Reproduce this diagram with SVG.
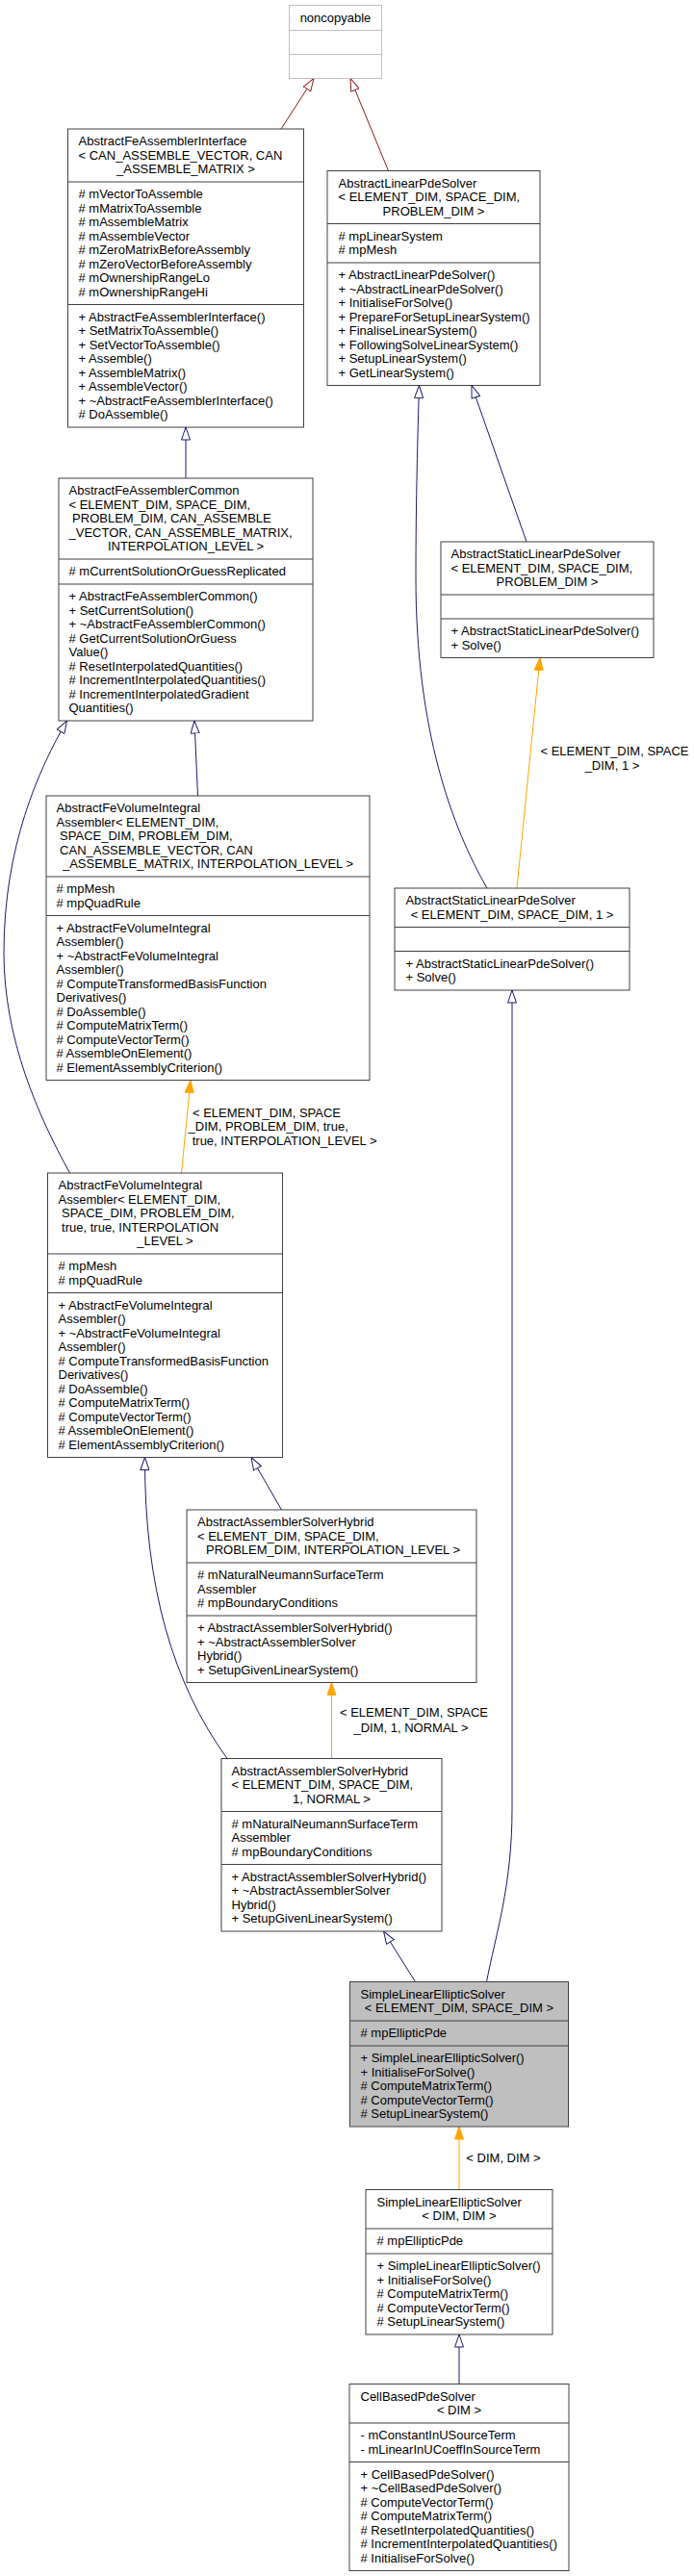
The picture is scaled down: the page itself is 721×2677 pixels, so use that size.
<svg xmlns="http://www.w3.org/2000/svg" width="721" height="2677" viewBox="0 0 721 2677">
<style>
text{font-family:"Liberation Sans",Arial,Helvetica,sans-serif;font-size:13px;fill:#000}
.m{text-anchor:middle}
.box{fill:#fff;stroke:#404040;stroke-width:1}
.gray{fill:#bfbfbf}
.ext{fill:#fff;stroke:#bfbfbf;stroke-width:1}
.div{stroke:#404040;stroke-width:1}
.divx{stroke:#bfbfbf;stroke-width:1}
.eb{fill:none;stroke:#191970;stroke-width:1;marker-end:url(#hb)}
.er{fill:none;stroke:#8b1a1a;stroke-width:1;marker-end:url(#hr)}
.eo{fill:none;stroke:#ffa500;stroke-width:1;marker-end:url(#ho)}
</style>
<defs>
<marker id="hb" viewBox="0 0 14 10" refX="13.5" refY="5" markerWidth="14" markerHeight="10" markerUnits="userSpaceOnUse" orient="auto"><path d="M0.5,0.5 L13.5,5 L0.5,9.5 Z" fill="#fff" stroke="#191970" stroke-width="1"/></marker>
<marker id="hr" viewBox="0 0 14 10" refX="13.5" refY="5" markerWidth="14" markerHeight="10" markerUnits="userSpaceOnUse" orient="auto"><path d="M0.5,0.5 L13.5,5 L0.5,9.5 Z" fill="#fff" stroke="#8b1a1a" stroke-width="1"/></marker>
<marker id="ho" viewBox="0 0 14 10" refX="13.5" refY="5" markerWidth="14" markerHeight="10" markerUnits="userSpaceOnUse" orient="auto"><path d="M0.5,0.5 L13.5,5 L0.5,9.5 Z" fill="#ffa500" stroke="#ffa500" stroke-width="1"/></marker>
</defs>
<rect width="721" height="2677" fill="#fff"/>

<g id="connectors">
<path class="er" d="M292,134 L326,81.5"/>
<path class="er" d="M403.5,177.5 L364,81.5"/>
<path class="eb" d="M193,497 L193,444"/>
<path class="eb" d="M547,563 L490,400.5"/>
<path class="eb" d="M506,923 C470,860 432,760 432,600 C432,520 434,450 435.5,400.5"/>
<path class="eo" d="M537,923 L561,683.5"/>
<text class="m" x="638.5" y="785">&lt; ELEMENT_DIM, SPACE</text>
<text class="m" x="636" y="799.5">_DIM, 1 &gt;</text>
<path class="eb" d="M72.5,1219 C40,1160 4,1080 4,990 C4,880 40,800 69.5,749"/>
<path class="eb" d="M205.5,827 L202,749"/>
<path class="eo" d="M188.5,1219 L198,1122.5"/>
<text x="200" y="1160.5">&lt; ELEMENT_DIM, SPACE</text>
<text x="195.6" y="1175">_DIM, PROBLEM_DIM, true,</text>
<text x="199.7" y="1190">true, INTERPOLATION_LEVEL &gt;</text>
<path class="eb" d="M236,1827.5 C180,1750 150,1650 150.5,1514.5"/>
<path class="eb" d="M292.5,1569 L261,1514.5"/>
<path class="eo" d="M344.5,1827.5 L344.5,1748.5"/>
<text class="m" x="430" y="1783.5">&lt; ELEMENT_DIM, SPACE</text>
<text class="m" x="427" y="1800">_DIM, 1, NORMAL &gt;</text>
<path class="eb" d="M431.5,2059.5 L398.5,2007"/>
<path class="eb" d="M505.5,2059.5 C515,2010 532,1960 532,1880 L532,1029"/>
<path class="eo" d="M477,2275.5 L477,2210"/>
<text class="m" x="523" y="2247">&lt; DIM, DIM &gt;</text>
<path class="eb" d="M477,2477.5 L477,2426"/>
</g>

<g id="noncopyable">
<rect class="ext" x="300.5" y="5.5" width="96" height="76"/>
<line class="divx" x1="300.5" y1="31.5" x2="396.5" y2="31.5"/>
<line class="divx" x1="300.5" y1="56.5" x2="396.5" y2="56.5"/>
<text class="m" x="348.5" y="22.5">noncopyable</text>
</g>

<g id="AbstractFeAssemblerInterface">
<rect class="box" x="70.5" y="134" width="245" height="310"/>
<line class="div" x1="70.5" y1="189" x2="315.5" y2="189"/>
<line class="div" x1="70.5" y1="316.5" x2="315.5" y2="316.5"/>
<text x="81.5" y="151">AbstractFeAssemblerInterface</text>
<text x="81.5" y="165.5">&lt; CAN_ASSEMBLE_VECTOR, CAN</text>
<text class="m" x="193" y="180">_ASSEMBLE_MATRIX &gt;</text>
<text x="81.5" y="206"># mVectorToAssemble</text>
<text x="81.5" y="220.5"># mMatrixToAssemble</text>
<text x="81.5" y="235"># mAssembleMatrix</text>
<text x="81.5" y="249.5"># mAssembleVector</text>
<text x="81.5" y="264"># mZeroMatrixBeforeAssembly</text>
<text x="81.5" y="278.5"># mZeroVectorBeforeAssembly</text>
<text x="81.5" y="293"># mOwnershipRangeLo</text>
<text x="81.5" y="307.5"># mOwnershipRangeHi</text>
<text x="81.5" y="333.5">+ AbstractFeAssemblerInterface()</text>
<text x="81.5" y="348">+ SetMatrixToAssemble()</text>
<text x="81.5" y="362.5">+ SetVectorToAssemble()</text>
<text x="81.5" y="377">+ Assemble()</text>
<text x="81.5" y="391.5">+ AssembleMatrix()</text>
<text x="81.5" y="406">+ AssembleVector()</text>
<text x="81.5" y="420.5">+ ~AbstractFeAssemblerInterface()</text>
<text x="81.5" y="435"># DoAssemble()</text>
</g>

<g id="AbstractLinearPdeSolver">
<rect class="box" x="340" y="177.5" width="221" height="223"/>
<line class="div" x1="340" y1="232.5" x2="561" y2="232.5"/>
<line class="div" x1="340" y1="273" x2="561" y2="273"/>
<text x="351.5" y="194.5">AbstractLinearPdeSolver</text>
<text x="351.5" y="209">&lt; ELEMENT_DIM, SPACE_DIM,</text>
<text class="m" x="450.5" y="223.5">PROBLEM_DIM &gt;</text>
<text x="351.5" y="249.5"># mpLinearSystem</text>
<text x="351.5" y="264"># mpMesh</text>
<text x="351.5" y="290">+ AbstractLinearPdeSolver()</text>
<text x="351.5" y="304.5">+ ~AbstractLinearPdeSolver()</text>
<text x="351.5" y="319">+ InitialiseForSolve()</text>
<text x="351.5" y="333.5">+ PrepareForSetupLinearSystem()</text>
<text x="351.5" y="348">+ FinaliseLinearSystem()</text>
<text x="351.5" y="362.5">+ FollowingSolveLinearSystem()</text>
<text x="351.5" y="377">+ SetupLinearSystem()</text>
<text x="351.5" y="391.5">+ GetLinearSystem()</text>
</g>

<g id="AbstractFeAssemblerCommon">
<rect class="box" x="61" y="497" width="264" height="252"/>
<line class="div" x1="61" y1="581" x2="325" y2="581"/>
<line class="div" x1="61" y1="607" x2="325" y2="607"/>
<text x="71.5" y="514">AbstractFeAssemblerCommon</text>
<text x="71.5" y="528.5">&lt; ELEMENT_DIM, SPACE_DIM,</text>
<text x="75.1" y="543">PROBLEM_DIM, CAN_ASSEMBLE</text>
<text x="71.5" y="557.5">_VECTOR, CAN_ASSEMBLE_MATRIX,</text>
<text class="m" x="193" y="572">INTERPOLATION_LEVEL &gt;</text>
<text x="71.5" y="598"># mCurrentSolutionOrGuessReplicated</text>
<text x="71.5" y="624">+ AbstractFeAssemblerCommon()</text>
<text x="71.5" y="638.5">+ SetCurrentSolution()</text>
<text x="71.5" y="653">+ ~AbstractFeAssemblerCommon()</text>
<text x="71.5" y="667.5"># GetCurrentSolutionOrGuess</text>
<text x="71.5" y="682">Value()</text>
<text x="71.5" y="696.5"># ResetInterpolatedQuantities()</text>
<text x="71.5" y="711"># IncrementInterpolatedQuantities()</text>
<text x="71.5" y="725.5"># IncrementInterpolatedGradient</text>
<text x="71.5" y="740">Quantities()</text>
</g>

<g id="AbstractStaticLinearPdeSolver_tmpl">
<rect class="box" x="458" y="563" width="221" height="120.5"/>
<line class="div" x1="458" y1="618" x2="679" y2="618"/>
<line class="div" x1="458" y1="643" x2="679" y2="643"/>
<text x="468.5" y="580">AbstractStaticLinearPdeSolver</text>
<text x="468.5" y="594.5">&lt; ELEMENT_DIM, SPACE_DIM,</text>
<text class="m" x="568.5" y="609">PROBLEM_DIM &gt;</text>
<text x="468.5" y="660">+ AbstractStaticLinearPdeSolver()</text>
<text x="468.5" y="674.5">+ Solve()</text>
</g>

<g id="AbstractFeVolumeIntegralAssembler_tmpl">
<rect class="box" x="48" y="827" width="336" height="295.5"/>
<line class="div" x1="48" y1="911" x2="384" y2="911"/>
<line class="div" x1="48" y1="951.5" x2="384" y2="951.5"/>
<text x="58.5" y="844">AbstractFeVolumeIntegral</text>
<text x="58.5" y="858.5">Assembler&lt; ELEMENT_DIM,</text>
<text x="62.1" y="873">SPACE_DIM, PROBLEM_DIM,</text>
<text x="62.1" y="887.5">CAN_ASSEMBLE_VECTOR, CAN</text>
<text class="m" x="216" y="902">_ASSEMBLE_MATRIX, INTERPOLATION_LEVEL &gt;</text>
<text x="58.5" y="928"># mpMesh</text>
<text x="58.5" y="942.5"># mpQuadRule</text>
<text x="58.5" y="968.5">+ AbstractFeVolumeIntegral</text>
<text x="58.5" y="983">Assembler()</text>
<text x="58.5" y="997.5">+ ~AbstractFeVolumeIntegral</text>
<text x="58.5" y="1012">Assembler()</text>
<text x="58.5" y="1026.5"># ComputeTransformedBasisFunction</text>
<text x="58.5" y="1041">Derivatives()</text>
<text x="58.5" y="1055.5"># DoAssemble()</text>
<text x="58.5" y="1070"># ComputeMatrixTerm()</text>
<text x="58.5" y="1084.5"># ComputeVectorTerm()</text>
<text x="58.5" y="1099"># AssembleOnElement()</text>
<text x="58.5" y="1113.5"># ElementAssemblyCriterion()</text>
</g>

<g id="AbstractStaticLinearPdeSolver_1">
<rect class="box" x="410" y="923" width="244" height="106"/>
<line class="div" x1="410" y1="963.5" x2="654" y2="963.5"/>
<line class="div" x1="410" y1="988.5" x2="654" y2="988.5"/>
<text x="421.5" y="940">AbstractStaticLinearPdeSolver</text>
<text class="m" x="532" y="954.5">&lt; ELEMENT_DIM, SPACE_DIM, 1 &gt;</text>
<text x="421.5" y="1005.5">+ AbstractStaticLinearPdeSolver()</text>
<text x="421.5" y="1020">+ Solve()</text>
</g>

<g id="AbstractFeVolumeIntegralAssembler_inst">
<rect class="box" x="49.5" y="1219" width="244" height="295.5"/>
<line class="div" x1="49.5" y1="1303" x2="293.5" y2="1303"/>
<line class="div" x1="49.5" y1="1343.5" x2="293.5" y2="1343.5"/>
<text x="60.5" y="1236">AbstractFeVolumeIntegral</text>
<text x="60.5" y="1250.5">Assembler&lt; ELEMENT_DIM,</text>
<text x="64.1" y="1265">SPACE_DIM, PROBLEM_DIM,</text>
<text x="64.1" y="1279.5">true, true, INTERPOLATION</text>
<text class="m" x="171.5" y="1294">_LEVEL &gt;</text>
<text x="60.5" y="1320"># mpMesh</text>
<text x="60.5" y="1334.5"># mpQuadRule</text>
<text x="60.5" y="1360.5">+ AbstractFeVolumeIntegral</text>
<text x="60.5" y="1375">Assembler()</text>
<text x="60.5" y="1389.5">+ ~AbstractFeVolumeIntegral</text>
<text x="60.5" y="1404">Assembler()</text>
<text x="60.5" y="1418.5"># ComputeTransformedBasisFunction</text>
<text x="60.5" y="1433">Derivatives()</text>
<text x="60.5" y="1447.5"># DoAssemble()</text>
<text x="60.5" y="1462"># ComputeMatrixTerm()</text>
<text x="60.5" y="1476.5"># ComputeVectorTerm()</text>
<text x="60.5" y="1491"># AssembleOnElement()</text>
<text x="60.5" y="1505.5"># ElementAssemblyCriterion()</text>
</g>

<g id="AbstractAssemblerSolverHybrid_tmpl">
<rect class="box" x="194" y="1569" width="301" height="179.5"/>
<line class="div" x1="194" y1="1624" x2="495" y2="1624"/>
<line class="div" x1="194" y1="1679" x2="495" y2="1679"/>
<text x="205" y="1586">AbstractAssemblerSolverHybrid</text>
<text x="205" y="1600.5">&lt; ELEMENT_DIM, SPACE_DIM,</text>
<text class="m" x="346" y="1615">PROBLEM_DIM, INTERPOLATION_LEVEL &gt;</text>
<text x="205" y="1641"># mNaturalNeumannSurfaceTerm</text>
<text x="205" y="1655.5">Assembler</text>
<text x="205" y="1670"># mpBoundaryConditions</text>
<text x="205" y="1696">+ AbstractAssemblerSolverHybrid()</text>
<text x="205" y="1710.5">+ ~AbstractAssemblerSolver</text>
<text x="205" y="1725">Hybrid()</text>
<text x="205" y="1739.5">+ SetupGivenLinearSystem()</text>
</g>

<g id="AbstractAssemblerSolverHybrid_inst">
<rect class="box" x="230" y="1827.5" width="229" height="179.5"/>
<line class="div" x1="230" y1="1882.5" x2="459" y2="1882.5"/>
<line class="div" x1="230" y1="1937.5" x2="459" y2="1937.5"/>
<text x="240.5" y="1844.5">AbstractAssemblerSolverHybrid</text>
<text x="240.5" y="1859">&lt; ELEMENT_DIM, SPACE_DIM,</text>
<text class="m" x="344.5" y="1873.5">1, NORMAL &gt;</text>
<text x="240.5" y="1899.5"># mNaturalNeumannSurfaceTerm</text>
<text x="240.5" y="1914">Assembler</text>
<text x="240.5" y="1928.5"># mpBoundaryConditions</text>
<text x="240.5" y="1954.5">+ AbstractAssemblerSolverHybrid()</text>
<text x="240.5" y="1969">+ ~AbstractAssemblerSolver</text>
<text x="240.5" y="1983.5">Hybrid()</text>
<text x="240.5" y="1998">+ SetupGivenLinearSystem()</text>
</g>

<g id="SimpleLinearEllipticSolver">
<rect class="box gray" x="363.5" y="2059.5" width="227" height="150.5"/>
<line class="div" x1="363.5" y1="2100" x2="590.5" y2="2100"/>
<line class="div" x1="363.5" y1="2126" x2="590.5" y2="2126"/>
<text x="374.5" y="2076.5">SimpleLinearEllipticSolver</text>
<text class="m" x="477" y="2091">&lt; ELEMENT_DIM, SPACE_DIM &gt;</text>
<text x="374.5" y="2117"># mpEllipticPde</text>
<text x="374.5" y="2143">+ SimpleLinearEllipticSolver()</text>
<text x="374.5" y="2157.5">+ InitialiseForSolve()</text>
<text x="374.5" y="2172"># ComputeMatrixTerm()</text>
<text x="374.5" y="2186.5"># ComputeVectorTerm()</text>
<text x="374.5" y="2201"># SetupLinearSystem()</text>
</g>

<g id="SimpleLinearEllipticSolver_DIM">
<rect class="box" x="380" y="2275.5" width="194" height="150.5"/>
<line class="div" x1="380" y1="2316" x2="574" y2="2316"/>
<line class="div" x1="380" y1="2342" x2="574" y2="2342"/>
<text x="391.5" y="2292.5">SimpleLinearEllipticSolver</text>
<text class="m" x="477" y="2307">&lt; DIM, DIM &gt;</text>
<text x="391.5" y="2333"># mpEllipticPde</text>
<text x="391.5" y="2359">+ SimpleLinearEllipticSolver()</text>
<text x="391.5" y="2373.5">+ InitialiseForSolve()</text>
<text x="391.5" y="2388"># ComputeMatrixTerm()</text>
<text x="391.5" y="2402.5"># ComputeVectorTerm()</text>
<text x="391.5" y="2417"># SetupLinearSystem()</text>
</g>

<g id="CellBasedPdeSolver">
<rect class="box" x="363" y="2477.5" width="228" height="194"/>
<line class="div" x1="363" y1="2518" x2="591" y2="2518"/>
<line class="div" x1="363" y1="2558.5" x2="591" y2="2558.5"/>
<text x="374.5" y="2494.5">CellBasedPdeSolver</text>
<text class="m" x="477" y="2509">&lt; DIM &gt;</text>
<text x="374.5" y="2535">- mConstantInUSourceTerm</text>
<text x="374.5" y="2549.5">- mLinearInUCoeffInSourceTerm</text>
<text x="374.5" y="2575.5">+ CellBasedPdeSolver()</text>
<text x="374.5" y="2590">+ ~CellBasedPdeSolver()</text>
<text x="374.5" y="2604.5"># ComputeVectorTerm()</text>
<text x="374.5" y="2619"># ComputeMatrixTerm()</text>
<text x="374.5" y="2633.5"># ResetInterpolatedQuantities()</text>
<text x="374.5" y="2648"># IncrementInterpolatedQuantities()</text>
<text x="374.5" y="2662.5"># InitialiseForSolve()</text>
</g>
</svg>
